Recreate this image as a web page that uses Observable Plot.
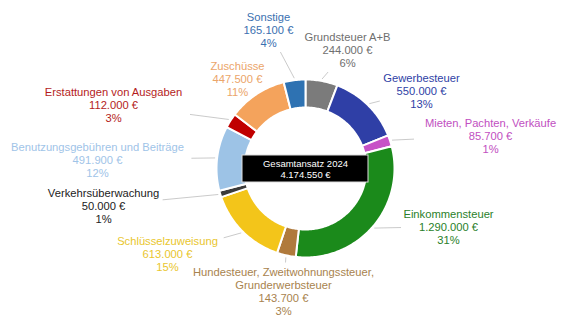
<!DOCTYPE html>
<html><head><meta charset="utf-8">
<script src="https://cdn.jsdelivr.net/npm/d3@7"></script>
<script src="https://cdn.jsdelivr.net/npm/@observablehq/plot@0.6"></script>
<style>body{margin:0;background:#fff;} #chart svg{display:block;}</style>
</head><body><div id="chart"></div>
<script>
// ---- data ----
const categories = [
  "Grundsteuer A+B",
  "Gewerbesteuer",
  "Mieten, Pachten, Verkäufe",
  "Einkommensteuer",
  "Hundesteuer, Zweitwohnungssteuer,\nGrunderwerbsteuer",
  "Schlüsselzuweisung",
  "Verkehrsüberwachung",
  "Benutzungsgebühren und Beiträge",
  "Erstattungen von Ausgaben",
  "Zuschüsse",
  "Sonstige"
];
const amounts = [244000, 550000, 85700, 1290000, 143700, 613000, 50000, 491900, 112000, 447500, 165100];
const amountLabels = ["244.000 €", "550.000 €", "85.700 €", "1.290.000 €", "143.700 €", "613.000 €", "50.000 €", "491.900 €", "112.000 €", "447.500 €", "165.100 €"];
const percentLabels = ["6%", "13%", "1%", "31%", "3%", "15%", "1%", "12%", "3%", "11%", "4%"];
const centerTitle = "Gesamtansatz 2024";
const centerTotal = "4.174.550 €";

// ---- styles / layout ----
const sliceColors = ["#7b7b7b", "#2f3fa6", "#c752c7", "#1b8a1b", "#b07a3c", "#f3c51a", "#3b3b3b", "#9dc3e6", "#c00000", "#f4a35c", "#2e72b2"];
const textColors  = ["#6f6f6f", "#2f3fa6", "#c14fc1", "#2a7f2a", "#a8834e", "#e9c62e", "#222222", "#9fc4e8", "#b41c1c", "#eba56a", "#3a70b0"];
// label block centres, px offsets from the donut centre
const labelOffsets = [[42,-119],[116,-78],[185,-33],[143,58],[-22,123],[-138,85],[-202,37],[-208,-9],[-192,-64],[-68,-90],[-37,-139]];
const W = 567, H = 319, CX = 305, CY = 168;
const R_OUT = 89, R_IN = 61;

const arcs = d3.pie().sort(null).value(d => d)(amounts);

// slice polygons
const slicePts = [];
arcs.forEach((a, i) => {
  const n = Math.max(2, Math.ceil((a.endAngle - a.startAngle) / (Math.PI / 180)));
  for (let k = 0; k <= n; k++) {
    const t = a.startAngle + (a.endAngle - a.startAngle) * k / n;
    slicePts.push({i, x: R_OUT * Math.sin(t), y: -R_OUT * Math.cos(t), c: sliceColors[i]});
  }
  for (let k = n; k >= 0; k--) {
    const t = a.startAngle + (a.endAngle - a.startAngle) * k / n;
    slicePts.push({i, x: R_IN * Math.sin(t), y: -R_IN * Math.cos(t), c: sliceColors[i]});
  }
});

// labels + leader lines
const labels = categories.map((c, i) => {
  const text = c + "\n" + amountLabels[i] + "\n" + percentLabels[i];
  const lines = text.split("\n");
  const maxLen = d3.max(lines, l => l.length);
  const hw = maxLen * 2.9 + 4, hh = lines.length * 6.5 + 3;
  const [lx, ly] = labelOffsets[i];
  const mid = (arcs[i].startAngle + arcs[i].endAngle) / 2;
  const px = (R_OUT + 2) * Math.sin(mid), py = -(R_OUT + 2) * Math.cos(mid);
  const dx = px - lx, dy = py - ly;
  const t = Math.min(hw / Math.abs(dx || 1e-9), hh / Math.abs(dy || 1e-9));
  return {text, x: lx, y: ly, c: textColors[i], x1: px, y1: py, x2: lx + dx * t, y2: ly + dy * t, show: t < 1};
});

const chart = Plot.plot({
  width: W, height: H,
  margin: 0,
  x: {domain: [-CX, W - CX], axis: null},
  y: {domain: [H - CY, -CY], axis: null},
  style: {fontFamily: "'Liberation Sans', Arial, sans-serif", background: "#fff"},
  marks: [
    Plot.link(labels.filter(d => d.show), {x1: "x1", y1: "y1", x2: "x2", y2: "y2", stroke: "#c4c4c4", strokeWidth: 0.9}),
    Plot.line(slicePts, {x: "x", y: "y", z: "i", fill: "c", stroke: "#fff", strokeWidth: 2, curve: "linear-closed"}),
    Plot.rect([{x1: -63, x2: 63, y1: -13, y2: 14}], {x1: "x1", x2: "x2", y1: "y1", y2: "y2", fill: "#000", stroke: "#ddd", strokeWidth: 1}),
    Plot.text([centerTitle + "\n" + centerTotal], {x: 0, y: 0.5, text: d => d, fill: "#fff", fontSize: 9.5, lineHeight: 1.18}),
    Plot.text(labels, {x: "x", y: "y", text: "text", fill: "c", fontSize: 11.2, lineHeight: 1.16})
  ]
});
document.getElementById("chart").appendChild(chart);
</script>
</body></html>
